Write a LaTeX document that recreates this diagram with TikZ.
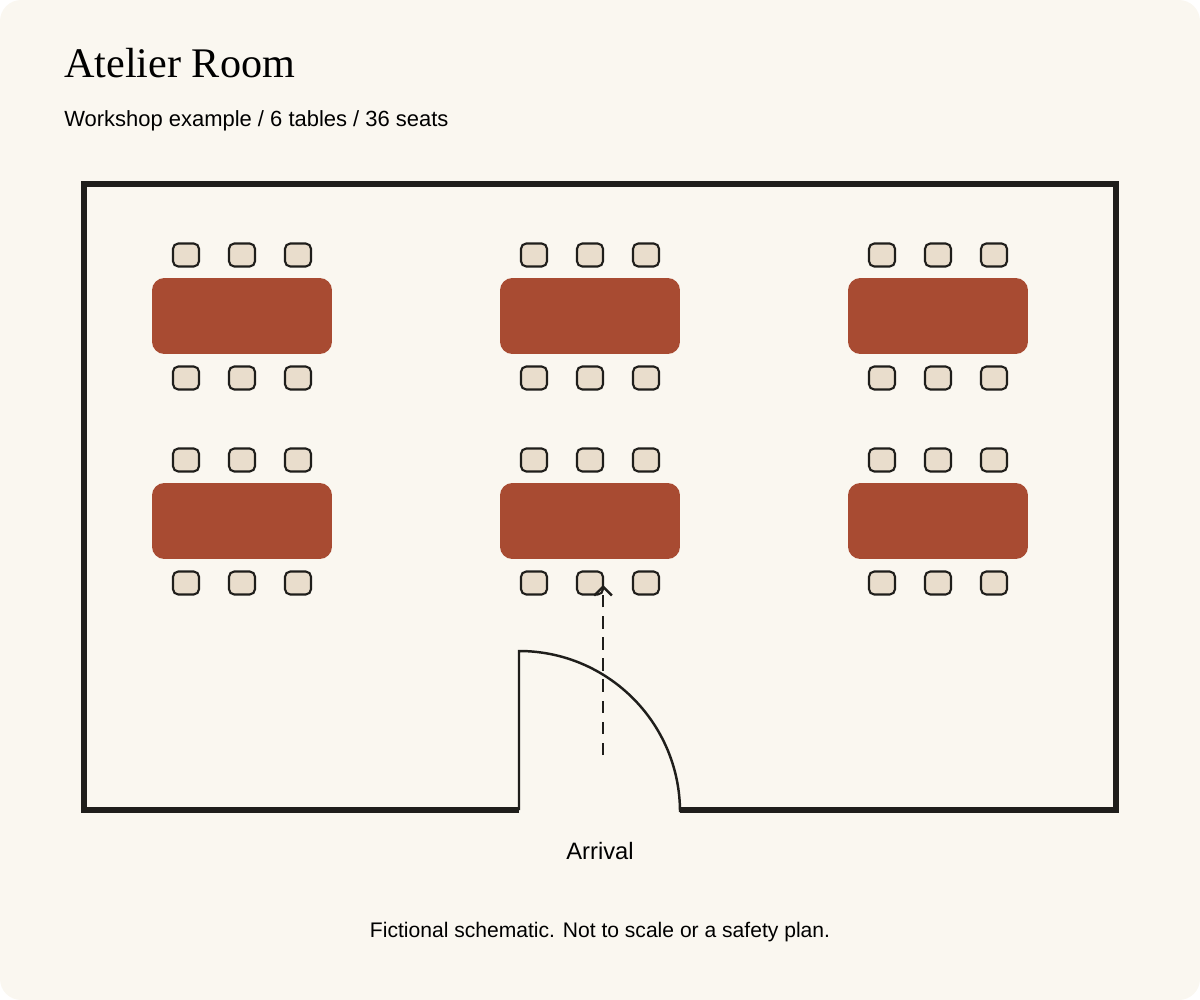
\documentclass[tikz,border=0pt]{standalone}
\usepackage{fontspec}
\setmainfont{Liberation Serif}
\setsansfont{Liberation Sans}
\usetikzlibrary{arrows.meta,positioning}
\definecolor{paper}{HTML}{FAF7F0}
\definecolor{ink}{HTML}{1F1E1B}
\definecolor{brick}{HTML}{A84B32}
\definecolor{seat}{HTML}{E9DDCC}
\tikzset{
  table/.style={draw=none,fill=brick,rounded corners=7pt,minimum width=3.6cm,minimum height=1.52cm,inner sep=0pt},
  chair/.style={draw=ink,line width=1.2pt,fill=seat,rounded corners=3pt,minimum width=0.52cm,minimum height=0.46cm,inner sep=0pt},
  wall/.style={draw=ink,line width=3.6pt},
}
\begin{document}
\begin{tikzpicture}[x=0.02cm,y=-0.02cm]
  % paper
  \fill[paper,rounded corners=12pt] (0,0) rectangle (1200,1000);
  \useasboundingbox (0,0) rectangle (1200,1000);

  % titles
  \node[anchor=base west,inner sep=0pt,font=\fontsize{24}{28}\selectfont] (title) at (64,78) {Atelier Room};
  \node[anchor=base west,inner sep=0pt,font=\sffamily\fontsize{12.5}{15}\selectfont] (sub) at (64,127) {Workshop example / 6 tables / 36 seats};

  % walls
  \draw[wall] (519,810) -- (84,810) -- (84,184) -- (1116,184) -- (1116,810) -- (680,810);

  % tables and chairs
  \foreach \tx [count=\i] in {242,590,938}{
    \foreach \ty [count=\j] in {316,521}{
      \node[table] (t\i\j) at (\tx,\ty) {};
      \foreach \dx [count=\k] in {-56,0,56}{
        \node[chair] (c\i\j a\k) at (\tx+\dx,\ty-61) {};
        \node[chair] (c\i\j b\k) at (\tx+\dx,\ty+62) {};
      }
    }
  }

  % door
  \coordinate (hinge) at (519,810);
  \draw[ink,line width=1.4pt] (hinge) -- ++(0,-159) arc[start angle=90,end angle=0,x radius=161,y radius=-161];

  % arrival path
  \coordinate (walk) at (603,755);
  \coordinate (goal) at (603,585);
  \draw[ink,line width=1.4pt,dash pattern=on 7pt off 5pt,-{Straight Barb[length=5pt,width=10pt]}] (walk) -- (goal);

  \node[font=\sffamily\fontsize{13.5}{16}\selectfont] (arrival) at (600,851) {Arrival};
  \node[font=\sffamily\fontsize{12}{14}\selectfont] (note) at (600,932) {Fictional schematic. Not to scale or a safety plan.};
\end{tikzpicture}
\end{document}
